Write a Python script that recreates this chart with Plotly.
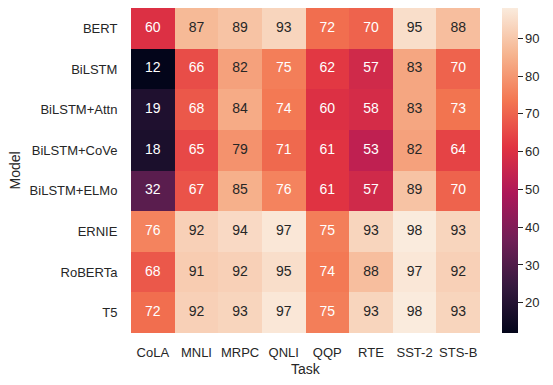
import plotly.graph_objects as go

models = ["BERT", "BiLSTM", "BiLSTM+Attn", "BiLSTM+CoVe", "BiLSTM+ELMo", "ERNIE", "RoBERTa", "T5"]
tasks = ["CoLA", "MNLI", "MRPC", "QNLI", "QQP", "RTE", "SST-2", "STS-B"]

bert = [60, 87, 89, 93, 72, 70, 95, 88]
bilstm = [12, 66, 82, 75, 62, 57, 83, 70]
bilstm_attn = [19, 68, 84, 74, 60, 58, 83, 73]
bilstm_cove = [18, 65, 79, 71, 61, 53, 82, 64]
bilstm_elmo = [32, 67, 85, 76, 61, 57, 89, 70]
ernie = [76, 92, 94, 97, 75, 93, 98, 93]
roberta = [68, 91, 92, 95, 74, 88, 97, 92]
t5 = [72, 92, 93, 97, 75, 93, 98, 93]

z = [bert, bilstm, bilstm_attn, bilstm_cove, bilstm_elmo, ernie, roberta, t5]

rocket = [
    [0.0, "#03051a"],
    [1 / 7, "#35193e"],
    [2 / 7, "#701f57"],
    [3 / 7, "#ad1759"],
    [4 / 7, "#e13342"],
    [5 / 7, "#f37651"],
    [6 / 7, "#f6b48f"],
    [1.0, "#faebdd"],
]

zmin = min(min(r) for r in z)
zmax = max(max(r) for r in z)


def hex2rgb(h):
    h = h.lstrip("#")
    return [int(h[i:i + 2], 16) / 255 for i in (0, 2, 4)]


def color_at(v):
    t = (v - zmin) / (zmax - zmin)
    for (p0, c0), (p1, c1) in zip(rocket[:-1], rocket[1:]):
        if p0 <= t <= p1:
            f = (t - p0) / (p1 - p0) if p1 > p0 else 0
            a, b = hex2rgb(c0), hex2rgb(c1)
            return [a[i] + f * (b[i] - a[i]) for i in range(3)]
    return hex2rgb(rocket[-1][1])


def lum(rgb):
    lin = [c / 12.92 if c <= 0.03928 else ((c + 0.055) / 1.055) ** 2.4 for c in rgb]
    return 0.2126 * lin[0] + 0.7152 * lin[1] + 0.0722 * lin[2]


tx, ty, tt, tc = [], [], [], []
for m, row in zip(models, z):
    for t, v in zip(tasks, row):
        tx.append(t)
        ty.append(m)
        tt.append(str(v))
        tc.append("#262626" if lum(color_at(v)) > 0.408 else "#ffffff")

FONT = "Liberation Sans, Arial, sans-serif"
fig = go.Figure()
fig.add_trace(go.Heatmap(
    z=z, x=tasks, y=models, colorscale=rocket, zmin=zmin, zmax=zmax,
    hoverinfo="skip",
    colorbar=dict(
        x=(502 - 131) / 349, xanchor="left", xpad=0, ypad=0,
        thickness=16, len=1, lenmode="fraction", y=0.5, yanchor="middle",
        outlinewidth=0, ticks="outside", ticklen=5, tickwidth=1.3,
        tickcolor="#262626", tickvals=[20, 30, 40, 50, 60, 70, 80, 90],
        tickfont=dict(family=FONT, size=13, color="#262626"),
    ),
))
fig.add_trace(go.Scatter(
    x=tx, y=ty, text=tt, mode="text",
    textfont=dict(family=FONT, size=14, color=tc),
    hoverinfo="skip", showlegend=False,
))
fig.update_layout(
    width=553, height=385,
    margin=dict(l=131, r=73, t=8, b=52, autoexpand=False),
    paper_bgcolor="white", plot_bgcolor="white",
    font=dict(family=FONT, color="#262626"),
    showlegend=False,
    xaxis=dict(showgrid=False, zeroline=False, showline=False,
               ticks="outside", ticklen=7, tickcolor="rgba(0,0,0,0)",
               tickfont=dict(size=13, color="#262626")),
    yaxis=dict(showgrid=False, zeroline=False, showline=False,
               autorange="reversed",
               ticks="outside", ticklen=10, tickcolor="rgba(0,0,0,0)",
               tickfont=dict(size=13, color="#262626")),
    annotations=[
        dict(text="Task", x=0.5, y=(333 - 369) / 325, xref="paper", yref="paper",
             xanchor="center", yanchor="middle", showarrow=False,
             font=dict(size=14, color="#262626")),
        dict(text="Model", x=(14 - 131) / 349, y=0.5, xref="paper", yref="paper",
             xanchor="center", yanchor="middle", showarrow=False, textangle=-90,
             font=dict(size=14, color="#262626")),
    ],
)
fig.write_html("out.html", config={"displayModeBar": False},
               post_script="document.body.style.margin='0';document.body.style.overflow='hidden';")
